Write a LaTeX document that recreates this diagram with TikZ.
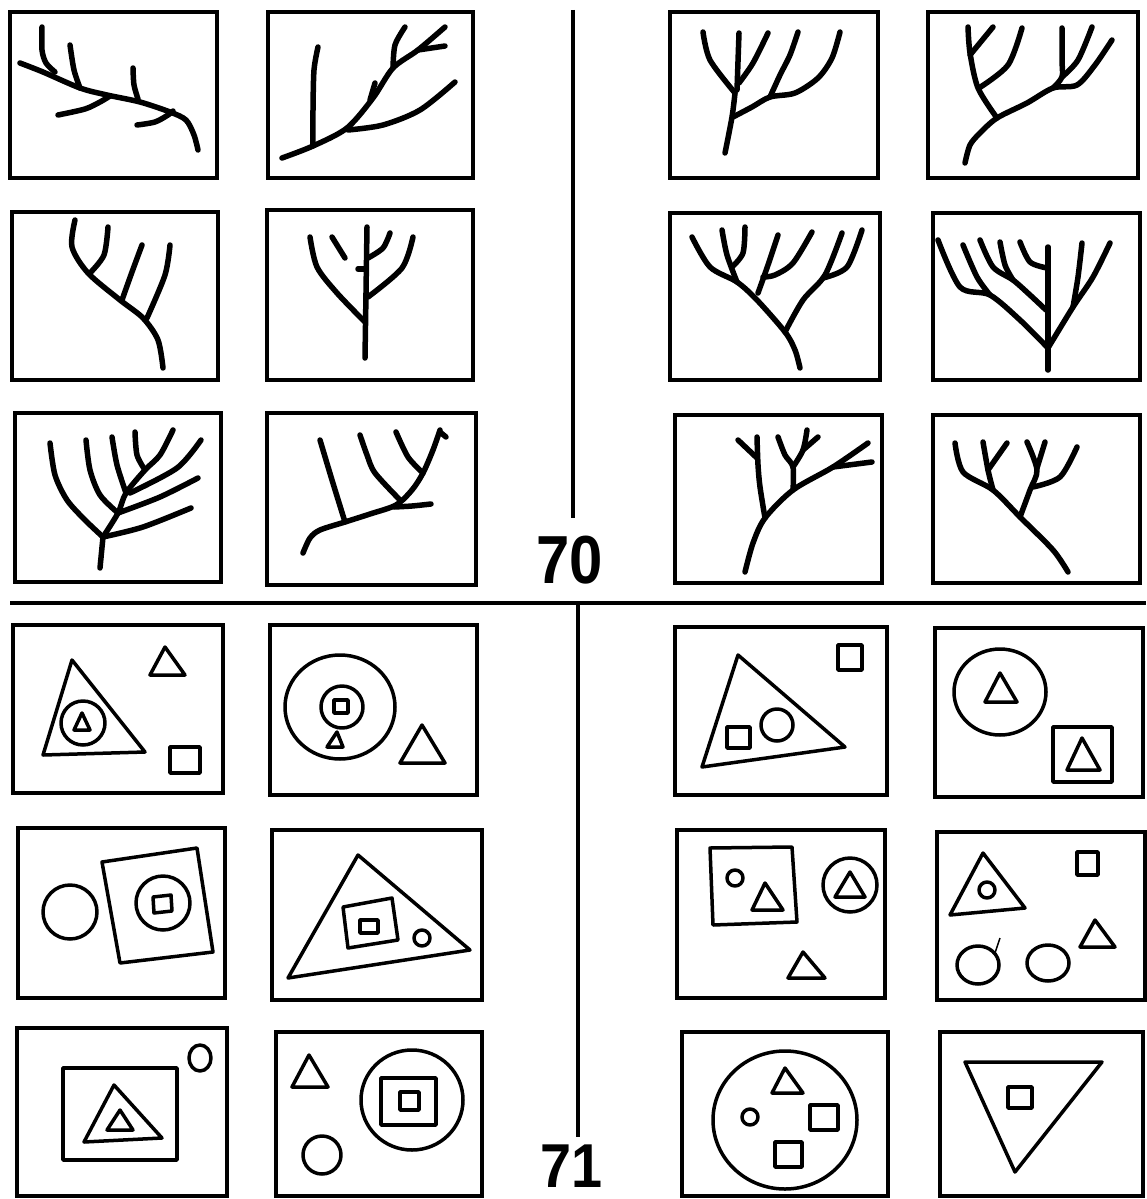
\documentclass[tikz,border=0pt]{standalone}
\usepackage{fontspec}
\newfontfamily\numfont{Liberation Sans}
\begin{document}
\begin{tikzpicture}[x=1pt,y=-1pt,
  panel/.style={line width=3.8pt, line join=miter},
  br/.style={line width=5.5pt, line cap=round, line join=round},
  sh/.style={line width=3.5pt, line join=round},
  divider/.style={line width=3.8pt},
  thinln/.style={line width=1.5pt},
  num/.style={inner sep=0pt, font=\numfont\bfseries\fontsize{68}{68}\selectfont}]
\useasboundingbox[fill=white] (0,0) rectangle (1146,1199);

% ---------- panel frames ----------
\foreach \a/\b/\c/\d in {10/12/217/178, 268/12/473/178, 670/12/878/178, 928/12/1138/178,
  12/212/218/380, 267/210/473/380, 670/213/880/380, 933/213/1140/380,
  15/413/221/582, 267/413/476/585, 675/415/882/583, 933/415/1140/583,
  13/625/223/793, 270/625/477/795, 675/627/887/795, 935/628/1143/797,
  18/828/225/998, 272/830/482/1000, 677/830/885/998, 937/832/1145/1000,
  17/1028/227/1196, 276/1032/482/1196, 682/1032/888/1196, 940/1032/1143/1196}
  \draw[panel] (\a,\b) rectangle (\c,\d);

% ---------- dividers and numbers ----------
\draw[divider] (573,10) -- (573,518);
\draw[divider] (10,603) -- (1146,603);
\draw[divider] (578,603) -- (578,1137);
\node[num] (n70) at (570,560) {\scalebox{0.88}[1]{70}};
\node[num, font=\numfont\bfseries\fontsize{62}{62}\selectfont] (n71) at (572,1166) {\scalebox{0.9}[1]{71}};

% ---------- trees: row 1 ----------
% A
\draw[br] plot[smooth] coordinates {(20,63) (43,72) (80,88) (107,95) (140,102) (170,112) (186,120) (194,135) (198,150)};
\draw[br] plot[smooth] coordinates {(42,27) (42,50) (46,63) (55,72)};
\draw[br] plot[smooth] coordinates {(70,45) (74,70) (80,88)};
\draw[br] plot[smooth] coordinates {(133,68) (134,85) (138,99)};
\draw[br] plot[smooth] coordinates {(58,115) (85,109) (100,102) (110,96)};
\draw[br] plot[smooth] coordinates {(137,125) (155,122) (168,115) (173,111)};
% B
\draw[br] plot[smooth] coordinates {(318,47) (314,70) (313,110) (313,146)};
\draw[br] plot[smooth] coordinates {(282,158) (313,146) (347,128) (373,98) (393,68) (418,50) (445,27)};
\draw[br] plot[smooth] coordinates {(348,130) (383,125) (420,110) (455,82)};
\draw[br] plot[smooth] coordinates {(393,68) (395,45) (405,27)};
\draw[br] (375,83) -- (370,100);
\draw[br] (418,50) -- (445,46);
% C
\draw[br] plot[smooth] coordinates {(725,153) (732,117) (735,93)};
\draw[br] plot[smooth] coordinates {(703,32) (710,60) (735,93)};
\draw[br] (739,33) -- (737,90);
\draw[br] plot[smooth] coordinates {(768,33) (753,63) (739,83)};
\draw[br] plot[smooth] coordinates {(733,117) (752,107) (770,97) (795,93) (818,78) (832,58) (840,32)};
\draw[br] plot[smooth] coordinates {(798,32) (790,55) (780,75) (770,97)};
% D
\draw[br] plot[smooth] coordinates {(965,163) (970,145) (980,133) (997,118) (1027,103) (1053,88) (1077,85) (1095,65) (1112,40)};
\draw[br] plot[smooth] coordinates {(997,118) (978,88) (970,53) (968,27)};
\draw[br] (970,55) -- (993,27);
\draw[br] plot[smooth] coordinates {(1022,28) (1008,65) (979,88)};
\draw[br] plot[smooth] coordinates {(1062,28) (1062,60) (1062,77) (1053,88)};
\draw[br] plot[smooth] coordinates {(1092,27) (1078,60) (1062,77)};

% ---------- trees: row 2 ----------
% A2
\draw[br] plot[smooth] coordinates {(75,220) (72,247) (88,273) (120,300) (143,318) (158,340) (163,368)};
\draw[br] plot[smooth] coordinates {(108,227) (104,255) (90,273)};
\draw[br] plot[smooth] coordinates {(142,245) (132,272) (122,300)};
\draw[br] plot[smooth] coordinates {(170,245) (165,275) (147,318)};
% B2
\draw[br] (367,227) -- (365,358);
\draw[br] plot[smooth] coordinates {(310,237) (317,267) (337,293) (365,322)};
\draw[br] (332,237) -- (345,258);
\draw[br] plot[smooth] coordinates {(390,233) (383,248) (368,258)};
\draw[br] plot[smooth] coordinates {(413,237) (402,268) (368,297)};
\draw[br] (358,269) -- (366,269);
% C2
\draw[br] plot[smooth] coordinates {(800,368) (795,350) (785,332) (757,300) (737,282) (710,267) (692,237)};
\draw[br] plot[smooth] coordinates {(722,230) (727,255) (737,282)};
\draw[br] plot[smooth] coordinates {(745,227) (743,253) (732,267)};
\draw[br] plot[smooth] coordinates {(778,235) (768,265) (758,293)};
\draw[br] plot[smooth] coordinates {(812,232) (793,263) (775,275) (763,277)};
\draw[br] plot[smooth] coordinates {(785,332) (803,300) (825,275) (842,233)};
\draw[br] plot[smooth] coordinates {(862,230) (847,267) (823,278)};
% D2
\draw[br] (1048,370) -- (1048,247);
\draw[br] plot[smooth] coordinates {(1048,348) (1020,320) (990,295) (960,287) (938,240)};
\draw[br] plot[smooth] coordinates {(963,245) (977,277) (990,295)};
\draw[br] plot[smooth] coordinates {(980,240) (993,267) (1013,280) (1030,295) (1046,310)};
\draw[br] plot[smooth] coordinates {(1000,242) (1005,265) (1013,280)};
\draw[br] plot[smooth] coordinates {(1020,242) (1030,262) (1047,268)};
\draw[br] plot[smooth] coordinates {(1048,348) (1073,307) (1093,277) (1110,243)};
\draw[br] plot[smooth] coordinates {(1082,243) (1078,277) (1073,307)};

% ---------- trees: row 3 ----------
% A3
\draw[br] (100,568) -- (103,537);
\draw[br] plot[smooth] coordinates {(50,443) (55,475) (67,500) (85,520) (103,537)};
\draw[br] plot[smooth] coordinates {(86,440) (90,470) (100,495) (118,513)};
\draw[br] plot[smooth] coordinates {(112,437) (117,465) (126,493)};
\draw[br] plot[smooth] coordinates {(135,432) (137,455) (145,470)};
\draw[br] plot[smooth] coordinates {(173,430) (160,455) (145,470) (126,493) (118,513) (103,537)};
\draw[br] plot[smooth] coordinates {(201,440) (177,468) (130,493)};
\draw[br] plot[smooth] coordinates {(198,478) (160,497) (118,513)};
\draw[br] plot[smooth] coordinates {(191,508) (143,527) (103,537)};
% B3
\draw[br] plot[smooth] coordinates {(303,553) (310,538) (320,530) (345,522) (370,514) (396,505) (412,490) (423,473) (433,450) (440,430)};
\draw[br] plot[smooth] coordinates {(320,440) (332,480) (345,522)};
\draw[br] plot[smooth] coordinates {(360,435) (367,455) (375,473) (400,500)};
\draw[br] plot[smooth] coordinates {(396,432) (408,457) (423,473)};
\draw[br] (440,432) -- (446,437);
\draw[br] plot[smooth] coordinates {(394,507) (412,506) (431,504)};
% C3
\draw[br] plot[smooth] coordinates {(745,572) (753,543) (765,518) (793,490) (833,467) (868,443)};
\draw[br] plot[smooth] coordinates {(757,437) (758,465) (760,487) (765,518)};
\draw[br] (738,440) -- (757,458);
\draw[br] plot[smooth] coordinates {(778,437) (785,455) (793,467) (793,490)};
\draw[br] plot[smooth] coordinates {(807,430) (803,450) (793,467)};
\draw[br] (818,437) -- (803,450);
\draw[br] (833,467) -- (872,462);
% D3
\draw[br] plot[smooth] coordinates {(1068,572) (1053,550) (1020,517) (993,490) (963,472) (955,443)};
\draw[br] plot[smooth] coordinates {(983,442) (988,470) (993,490)};
\draw[br] (1007,443) -- (988,470);
\draw[br] plot[smooth] coordinates {(1020,517) (1030,490) (1037,470) (1027,442)};
\draw[br] (1045,442) -- (1037,468);
\draw[br] plot[smooth] coordinates {(1077,447) (1060,477) (1033,487)};

% ---------- shapes: row 4 ----------
% A4
\draw[sh] (72,660) -- (43,755) -- (145,752) -- cycle;
\draw[sh] (83,723) circle[radius=22pt];
\draw[sh] (82,713) -- (74,730) -- (90,730) -- cycle;
\draw[sh] (165,647) -- (150,675) -- (185,675) -- cycle;
\draw[sh] (170,747) rectangle (200,773);
% B4
\draw[sh] (340,707) ellipse[x radius=55pt, y radius=52pt];
\draw[sh] (342,707) circle[radius=21pt];
\draw[sh] (334,700) rectangle (348,713);
\draw[sh] (337,732) -- (327,747) -- (343,747) -- cycle;
\draw[sh] (422,725) -- (400,763) -- (445,763) -- cycle;
% C4
\draw[sh] (738,655) -- (702,767) -- (845,747) -- cycle;
\draw[sh] (727,727) rectangle (750,748);
\draw[sh] (777,725) circle[radius=16pt];
\draw[sh] (838,645) rectangle (862,670);
% D4
\draw[sh] (1000,692) ellipse[x radius=46pt, y radius=43pt];
\draw[sh] (1000,673) -- (985,702) -- (1017,702) -- cycle;
\draw[sh] (1053,727) rectangle (1112,782);
\draw[sh] (1082,738) -- (1067,770) -- (1100,770) -- cycle;

% ---------- shapes: row 5 ----------
% A5
\draw[sh] (70,912) circle[radius=27pt];
\draw[sh] (102,862) -- (197,848) -- (213,952) -- (120,963) -- cycle;
\draw[sh] (163,903) circle[radius=27pt];
\draw[sh] (153,897) -- (171,895) -- (172,911) -- (154,913) -- cycle;
% B5
\draw[sh] (358,855) -- (288,978) -- (470,950) -- cycle;
\draw[sh] (343,907) -- (392,898) -- (398,940) -- (348,948) -- cycle;
\draw[sh] (360,920) rectangle (378,933);
\draw[sh] (422,938) circle[radius=8pt];
% C5
\draw[sh] (710,848) -- (792,847) -- (797,922) -- (713,925) -- cycle;
\draw[sh] (735,878) circle[radius=8pt];
\draw[sh] (765,883) -- (752,910) -- (783,910) -- cycle;
\draw[sh] (850,885) circle[radius=27pt];
\draw[sh] (850,872) -- (835,897) -- (865,897) -- cycle;
\draw[sh] (803,952) -- (788,978) -- (825,978) -- cycle;
% D5
\draw[sh] (983,853) -- (950,915) -- (1025,908) -- cycle;
\draw[sh] (987,890) circle[radius=8pt];
\draw[sh] (1077,852) rectangle (1098,875);
\draw[sh] (1095,920) -- (1080,947) -- (1115,947) -- cycle;
\draw[sh] (978,965) ellipse[x radius=21pt, y radius=19pt];
\draw[thinln] (1000,938) -- (995,953);
\draw[sh] (1048,963) ellipse[x radius=21pt, y radius=18pt];

% ---------- shapes: row 6 ----------
% A6
\draw[sh] (63,1068) rectangle (177,1160);
\draw[sh] (114,1085) -- (84,1142) -- (162,1138) -- cycle;
\draw[sh] (120,1110) -- (107,1130) -- (133,1130) -- cycle;
\draw[sh] (200,1058) ellipse[x radius=11pt, y radius=13pt];
% B6
\draw[sh] (309,1055) -- (292,1087) -- (328,1087) -- cycle;
\draw[sh] (322,1155) ellipse[x radius=19pt, y radius=19pt];
\draw[sh] (412,1100) ellipse[x radius=51pt, y radius=50pt];
\draw[sh] (381,1078) rectangle (436,1125);
\draw[sh] (400,1092) rectangle (419,1110);
% C6
\draw[sh] (785,1120) ellipse[x radius=72pt, y radius=69pt];
\draw[sh] (785,1068) -- (772,1093) -- (803,1093) -- cycle;
\draw[sh] (750,1117) circle[radius=8pt];
\draw[sh] (810,1105) rectangle (838,1130);
\draw[sh] (775,1142) rectangle (802,1167);
% D6
\draw[sh] (965,1062) -- (1102,1062) -- (1015,1172) -- cycle;
\draw[sh] (1008,1087) rectangle (1032,1108);
\end{tikzpicture}
\end{document}
